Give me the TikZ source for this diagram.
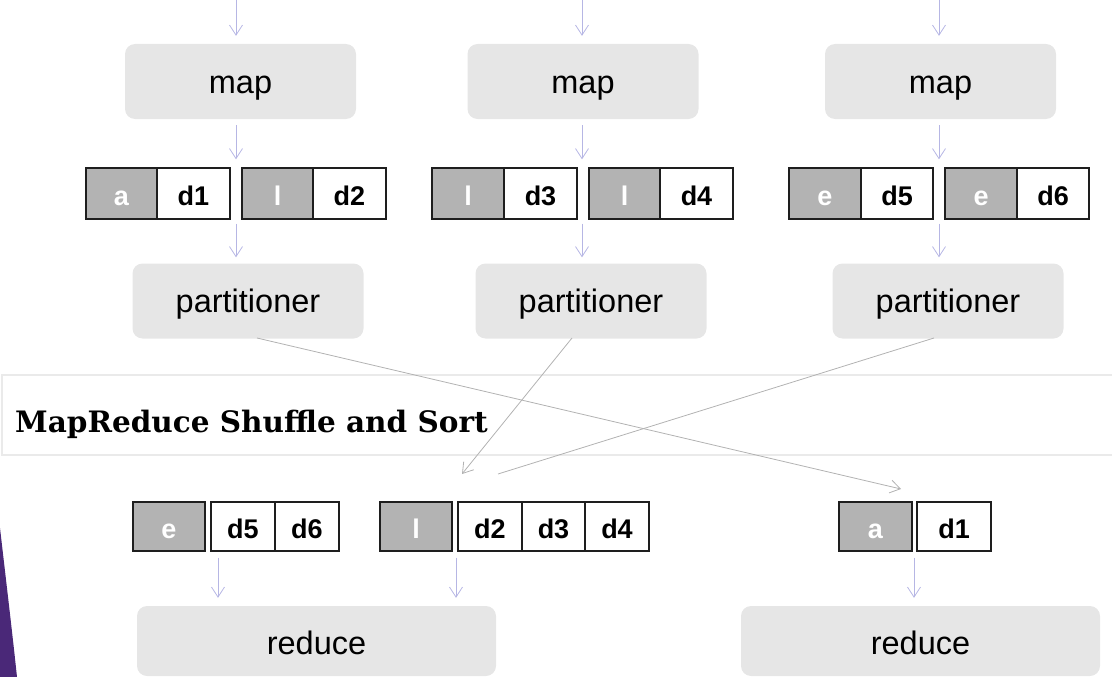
\documentclass[tikz,border=0pt]{standalone}
\usepackage{fontspec}
\usepackage{graphicx}
\setmainfont{Liberation Sans}
\newfontfamily\headfont{DejaVu Serif}
\usetikzlibrary{arrows.meta}

\definecolor{boxfill}{RGB}{230,230,230}
\definecolor{keyfill}{RGB}{179,179,179}
\definecolor{cellline}{RGB}{30,30,30}
\definecolor{flowcol}{RGB}{182,182,228}
\definecolor{crosscol}{RGB}{178,178,178}
\definecolor{bandcol}{RGB}{234,234,234}
\definecolor{accent}{RGB}{74,40,120}

\tikzset{
  stage/.style={rectangle, rounded corners=10pt, fill=boxfill, draw=none,
    minimum width=231pt, minimum height=75pt, inner sep=0pt,
    text height=23pt, text depth=0pt,
    font=\fontsize{32.5}{32.5}\selectfont},
  keycell/.style={rectangle, draw=cellline, line width=1.4pt, fill=keyfill,
    text=white, minimum height=51pt, inner sep=0pt,
    text height=23pt, text depth=0pt,
    font=\bfseries\fontsize{27}{27}\selectfont},
  valcell/.style={rectangle, draw=cellline, line width=1.4pt, fill=white,
    text=black, minimum height=51pt, inner sep=0pt,
    text height=23pt, text depth=0pt,
    font=\bfseries\fontsize{27}{27}\selectfont},
  flow/.style={draw=flowcol, line width=0.8pt,
    -{Straight Barb[length=10pt,width=13pt,line width=0.8pt]}},
  cross/.style={draw=crosscol, line width=0.8pt},
  crossarrow/.style={cross, -{Straight Barb[length=10pt,width=13pt,line width=0.8pt]}},
}

\begin{document}
\begin{tikzpicture}[x=1pt,y=-1pt]
\useasboundingbox (0,0) rectangle (1112,677);

% title band
\draw[bandcol, line width=1.5pt] (2,375) rectangle (1116,455);
\node[anchor=base west, inner sep=0pt, font=\headfont\bfseries\fontsize{29.5}{32}\selectfont]
  (title) at (15,432) {MapReduce Shuffle and Sort};

% corner accent
\fill[accent] (0,528) .. controls (6,580) and (12,630) .. (17,677) -- (0,677) -- cycle;

% map stage
\node[stage] (m1) at (240.5,81.5) {map};
\node[stage] (m2) at (583,81.5) {map};
\node[stage] (m3) at (940.5,81.5) {map};

% intermediate pairs
\node[keycell, minimum width=71pt] (k1) at (121.5,193.5) {a};
\node[valcell, minimum width=73pt] (v1) at (193.5,193.5) {d1};
\node[keycell, minimum width=71pt] (k2) at (277.5,193.5) {l};
\node[valcell, minimum width=73pt] (v2) at (349.5,193.5) {d2};
\node[keycell, minimum width=72pt] (k3) at (468,193.5) {l};
\node[valcell, minimum width=73pt] (v3) at (540.5,193.5) {d3};
\node[keycell, minimum width=71pt] (k4) at (624.5,193.5) {l};
\node[valcell, minimum width=73pt] (v4) at (696.5,193.5) {d4};
\node[keycell, minimum width=72pt] (k5) at (825,193.5) {e};
\node[valcell, minimum width=72pt] (v5) at (897,193.5) {d5};
\node[keycell, minimum width=72pt] (k6) at (981,193.5) {e};
\node[valcell, minimum width=72pt] (v6) at (1053,193.5) {d6};

% partitioners
\node[stage] (p1) at (248,301) {partitioner};
\node[stage] (p2) at (591,301) {partitioner};
\node[stage] (p3) at (948,301) {partitioner};

% grouped keys
\node[keycell, minimum width=72pt, minimum height=49pt] (g1) at (169,526.5) {e};
\node[valcell, minimum width=64pt, minimum height=49pt] (g1a) at (243,526.5) {d5};
\node[valcell, minimum width=64pt, minimum height=49pt] (g1b) at (307,526.5) {d6};
\node[keycell, minimum width=72pt, minimum height=49pt] (g2) at (416,526.5) {l};
\node[valcell, minimum width=64pt, minimum height=49pt] (g2a) at (490,526.5) {d2};
\node[valcell, minimum width=63pt, minimum height=49pt] (g2b) at (553.5,526.5) {d3};
\node[valcell, minimum width=64pt, minimum height=49pt] (g2c) at (617,526.5) {d4};
\node[keycell, minimum width=73pt, minimum height=49pt] (g3) at (875.5,526.5) {a};
\node[valcell, minimum width=74pt, minimum height=49pt] (g3a) at (954,526.5) {d1};

% reducers
\node[stage, minimum width=359pt, minimum height=70pt, text height=26pt] (r1) at (316.5,641) {reduce};
\node[stage, minimum width=359pt, minimum height=70pt, text height=26pt] (r2) at (920.5,641) {reduce};

% column guides
\coordinate (c1) at (236,0);
\coordinate (c2) at (582,0);
\coordinate (c3) at (939,0);
\coordinate (b1) at (218,0);
\coordinate (b2) at (456,0);
\coordinate (b3) at (914,0);

% input arrows
\foreach \c/\m in {c1/m1, c2/m2, c3/m3}
  \draw[flow, shorten >=8pt] (\c) -- (\c |- \m.north);

% map -> pairs
\draw[flow, shorten <=6pt, shorten >=8pt] (c1 |- m1.south) -- (c1 |- k1.north);
\draw[flow, shorten <=6pt, shorten >=8pt] (c2 |- m2.south) -- (c2 |- k3.north);
\draw[flow, shorten <=6pt, shorten >=8pt] (c3 |- m3.south) -- (c3 |- k5.north);

% pairs -> partitioner
\draw[flow, shorten <=4pt, shorten >=6pt] (c1 |- k1.south) -- (c1 |- p1.north);
\draw[flow, shorten <=4pt, shorten >=6pt] (c2 |- k3.south) -- (c2 |- p2.north);
\draw[flow, shorten <=4pt, shorten >=6pt] (c3 |- k5.south) -- (c3 |- p3.north);

% shuffle
\coordinate (s1) at (257,338);
\coordinate (s2) at (572,338);
\coordinate (s3) at (934,338);
\coordinate (e1) at (901,489);
\coordinate (e2) at (462,474);
\coordinate (e3) at (498,474);
\draw[crossarrow] (s1) -- (e1);
\draw[crossarrow] (s2) -- (e2);
\draw[cross] (s3) -- (e3);

% grouped -> reduce
\draw[flow, shorten <=6pt, shorten >=8pt] (b1 |- g1.south) -- (b1 |- r1.north);
\draw[flow, shorten <=6pt, shorten >=8pt] (b2 |- g2.south) -- (b2 |- r1.north);
\draw[flow, shorten <=6pt, shorten >=8pt] (b3 |- g3.south) -- (b3 |- r2.north);
\end{tikzpicture}
\end{document}
